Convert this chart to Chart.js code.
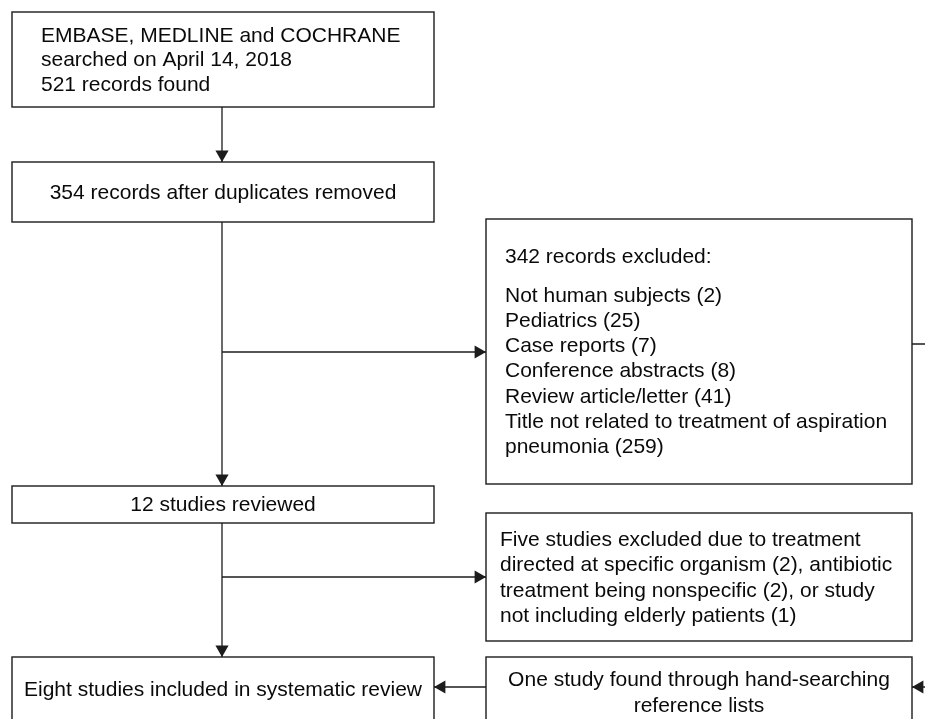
<!DOCTYPE html>
<html>
<head>
<meta charset="utf-8">
<title>Flow diagram</title>
<script src="https://cdn.jsdelivr.net/npm/chart.js@4/dist/chart.umd.min.js"></script>
<style>
  html, body { margin: 0; padding: 0; background: #ffffff; }
  #wrap { width: 925px; height: 719px; }
</style>
</head>
<body>
<div id="wrap"><canvas id="c" width="925" height="719"></canvas></div>
<script>
// ---- Diagram content (chart units: x 0..925, y 0..719, top-down) ----
const boxTexts = [
  ["EMBASE, MEDLINE and COCHRANE", "searched on April 14, 2018", "521 records found"],
  ["354 records after duplicates removed"],
  ["342 records excluded:", "", "Not human subjects (2)", "Pediatrics (25)", "Case reports (7)",
   "Conference abstracts (8)", "Review article/letter (41)",
   "Title not related to treatment of aspiration", "pneumonia (259)"],
  ["12 studies reviewed"],
  ["Five studies excluded due to treatment", "directed at specific organism (2), antibiotic",
   "treatment being nonspecific (2), or study", "not including elderly patients (1)"],
  ["Eight studies included in systematic review"],
  ["One study found through hand-searching", "reference lists"]
];
const boxLeft   = [12, 12, 486, 12, 486, 12, 486];
const boxRight  = [434, 434, 912, 434, 912, 434, 912];
const boxTop    = [12, 162, 219, 486, 513, 657, 657];
const boxBottom = [107, 222, 484, 523, 641, 721, 727];

// connectors: polylines; the last point is the arrow tip
const connX = [
  [222, 222],
  [222, 222],
  [222, 486],
  [222, 222],
  [222, 486],
  [486, 434],
  [912, 945, 945, 912]
];
const connY = [
  [107, 162],
  [222, 486],
  [352, 352],
  [523, 657],
  [577, 577],
  [687, 687],
  [344, 344, 687, 687]
];

// ---- Presentation ----
const style = {
  font: "21px 'Liberation Sans', Arial, Helvetica, sans-serif",
  textColor: "#0a0a0a",
  lineColor: "#1c1c1c",
  boxLine: 1.4,
  connLine: 1.3,
  blankHeight: 13,
  arrowR: 7.6
};
const boxAlign = ["left", "center", "left", "center", "left", "center", "center"];
const boxPad   = [29, 0, 19, 0, 14, 0, 0];
const boxLineH = [24.5, 25.3, 25.3, 25.3, 25.5, 25.3, 25.5];

// ---- Build datasets ----
const datasets = [];
connX.forEach((xs, i) => {
  const ys = connY[i];
  datasets.push({
    type: "scatter",
    label: "conn" + i,
    data: xs.map((x, k) => ({ x: x, y: ys[k] })),
    showLine: true,
    borderColor: style.lineColor,
    borderWidth: style.connLine,
    pointRadius: 0,
    pointHoverRadius: 0,
    tension: 0,
    order: 2
  });
});

// arrowheads: placed so the triangle tip lands on the connector's end point
const heads = [];
const rots = [];
connX.forEach((xs, i) => {
  const ys = connY[i];
  const n = xs.length;
  const dx = Math.sign(xs[n - 1] - xs[n - 2]);
  const dy = Math.sign(ys[n - 1] - ys[n - 2]);
  heads.push({ x: xs[n - 1] - dx * style.arrowR, y: ys[n - 1] - dy * style.arrowR });
  let r = 0;
  if (dy > 0) r = 180; else if (dy < 0) r = 0; else if (dx > 0) r = 90; else r = 270;
  rots.push(r);
});
datasets.push({
  type: "scatter",
  label: "heads",
  data: heads,
  pointStyle: "triangle",
  pointRadius: style.arrowR,
  pointHoverRadius: style.arrowR,
  pointRotation: rots,
  backgroundColor: style.lineColor,
  borderColor: style.lineColor,
  borderWidth: 0,
  order: 1
});

// ---- Plugin: boxes and texts through the scales ----
const boxPlugin = {
  id: "flowBoxes",
  beforeDatasetsDraw(chart) {
    const { ctx, scales } = chart;
    const xs = scales.x, ys = scales.y;
    ctx.save();
    ctx.beginPath();
    ctx.rect(chart.chartArea.left, chart.chartArea.top,
             chart.chartArea.right - chart.chartArea.left,
             chart.chartArea.bottom - chart.chartArea.top);
    ctx.clip();
    boxTexts.forEach((lines, i) => {
      const l = xs.getPixelForValue(boxLeft[i]);
      const r = xs.getPixelForValue(boxRight[i]);
      const t = ys.getPixelForValue(boxTop[i]);
      const b = ys.getPixelForValue(boxBottom[i]);
      ctx.fillStyle = "#ffffff";
      ctx.fillRect(l, t, r - l, b - t);
      ctx.strokeStyle = style.lineColor;
      ctx.lineWidth = style.boxLine;
      ctx.strokeRect(l, t, r - l, b - t);

      const hs = lines.map(s => (s === "" ? style.blankHeight : boxLineH[i]));
      const total = hs.reduce((a, c) => a + c, 0);
      let y = (t + b) / 2 - total / 2;
      ctx.font = style.font;
      ctx.fillStyle = style.textColor;
      ctx.textBaseline = "middle";
      ctx.textAlign = boxAlign[i];
      const tx = boxAlign[i] === "left" ? l + boxPad[i] : (l + r) / 2;
      lines.forEach((s, k) => {
        if (s !== "") ctx.fillText(s, tx, y + hs[k] / 2 + 1);
        y += hs[k];
      });
    });
    ctx.restore();
  }
};

new Chart(document.getElementById("c"), {
  data: { datasets: datasets },
  options: {
    responsive: false,
    animation: false,
    events: [],
    layout: { padding: 0, autoPadding: false },
    plugins: { legend: { display: false }, title: { display: false }, tooltip: { enabled: false } },
    scales: {
      x: { type: "linear", min: 0, max: 925, display: false },
      y: { type: "linear", min: 0, max: 719, reverse: true, display: false }
    }
  },
  plugins: [boxPlugin]
});
</script>
</body>
</html>
